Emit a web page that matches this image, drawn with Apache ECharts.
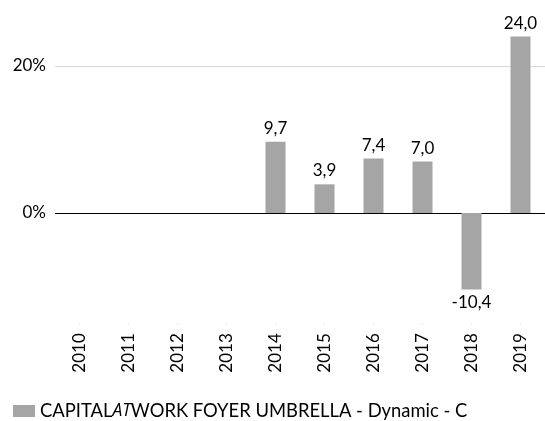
<!DOCTYPE html>
<html>
<head>
<meta charset="utf-8">
<script src="https://cdn.jsdelivr.net/npm/echarts@6/dist/echarts.min.js"></script>
<style>html,body{margin:0;padding:0;background:#fff}#c{width:545px;height:421px}</style>
</head>
<body>
<div id="c"></div>
<script>
const categories = ['2010','2011','2012','2013','2014','2015','2016','2017','2018','2019'];
const values = [null, null, null, null, 9.7, 3.9, 7.4, 7.0, -10.4, 24.0];
const yTickLabels = [0, 20];
const seriesName = 'CAPITALATWORK FOYER UMBRELLA - Dynamic - C';

const FONT = 'Lato';
const chart = echarts.init(document.getElementById('c'), null, {renderer: 'canvas'});
const data = values.map(v => v === null ? null : (v < 0 ? {value: v, label: {position: 'bottom'}} : v));

chart.setOption({
  animation: false,
  backgroundColor: '#ffffff',
  textStyle: {fontFamily: FONT},
  grid: {left: 55, width: 494, top: 29.25, height: 294},
  legend: {
    left: 8, top: 397, padding: 5,
    icon: 'rect', itemWidth: 22, itemHeight: 12, itemGap: 8,
    data: [seriesName],
    formatter: () => '{n|CAPITAL}{i|AT}{n|WORK FOYER UMBRELLA - Dynamic - C}',
    textStyle: {
      fontFamily: FONT, fontSize: 18.4, color: '#000',
      rich: {
        n: {fontFamily: FONT, fontSize: 18.4, color: '#000'},
        i: {fontFamily: 'Open Sans', fontSize: 17.4, color: '#000', fontStyle: 'italic'}
      }
    }
  },
  xAxis: {
    type: 'category',
    data: categories,
    position: 'bottom',
    axisLine: {show: false, onZero: false},
    axisTick: {show: true, alignWithLabel: true, length: 2, lineStyle: {color: '#e8e8e8'}},
    axisLabel: {rotate: 90, margin: 10, fontSize: 17, color: '#000', fontFamily: FONT},
    splitLine: {show: false}
  },
  yAxis: {
    type: 'value',
    min: -15, max: 25, interval: 5,
    axisLine: {show: false},
    axisTick: {show: false},
    splitLine: {show: false},
    axisLabel: {
      margin: 9, fontSize: 17, color: '#000', fontFamily: FONT,
      formatter: v => yTickLabels.includes(v) ? v + '%' : ''
    }
  },
  series: [{
    name: seriesName,
    type: 'bar',
    data: data,
    barWidth: 20,
    itemStyle: {color: '#a5a5a5'},
    z: 3,
    label: {
      show: true, position: 'top', distance: 5,
      fontSize: 17, color: '#000', fontFamily: FONT,
      formatter: p => p.value.toFixed(1).replace('.', ',')
    },
    markLine: {
      silent: true, symbol: 'none', z: 1,
      label: {show: false},
      animation: false,
      data: [
        {yAxis: 20, lineStyle: {color: '#d9d9d9', width: 1, type: 'solid'}},
        {yAxis: 0, lineStyle: {color: '#000000', width: 1, type: 'solid'}}
      ]
    }
  }]
});
</script>
</body>
</html>
